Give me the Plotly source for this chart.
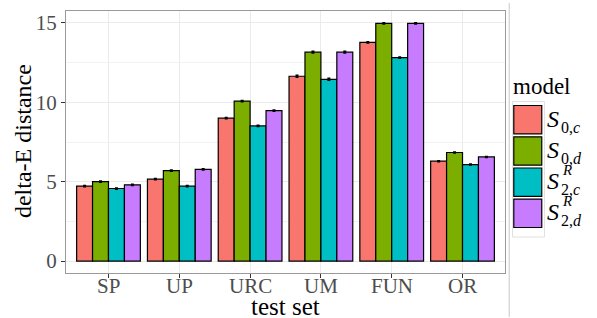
import plotly.graph_objects as go

categories = ["SP", "UP", "URC", "UM", "FUN", "OR"]
models = ["S0c", "S0d", "S2cR", "S2dR"]
s0c = [4.72, 5.16, 9.00, 11.64, 13.77, 6.29]
s0d = [5.01, 5.70, 10.08, 13.16, 14.97, 6.84]
s2c = [4.57, 4.72, 8.51, 11.45, 12.81, 6.08]
s2d = [4.80, 5.77, 9.48, 13.16, 14.97, 6.56]
err = [0.04, 0.04, 0.04, 0.06, 0.04, 0.03]
colors = ["#F8766D", "#7CAE00", "#00BFC4", "#C77CFF"]

W, H = 597, 318
L, R, T, B = 66, 505.5, 11, 273

fig = go.Figure()
for vals, c, name in zip([s0c, s0d, s2c, s2d], colors, models):
    fig.add_trace(go.Bar(
        x=categories, y=vals, name=name, marker=dict(color=c, line=dict(color="black", width=1.2)),
        error_y=dict(type="data", array=err, color="black", thickness=1.5, width=1.5),
        showlegend=False))

font = "Liberation Serif"
fig.update_layout(
    width=W, height=H, barmode="group", bargap=0.1, bargroupgap=0,
    margin=dict(l=L, r=W - R, t=T, b=H - B),
    plot_bgcolor="white", paper_bgcolor="white",
    font=dict(family=font, color="#4D4D4D", size=20),
    xaxis=dict(range=[-0.6, 5.6], showgrid=True, gridcolor="#EBEBEB", gridwidth=1,
               showline=True, mirror=True, linecolor="#9A9A9A", linewidth=1,
               ticks="outside", ticklen=4, tickcolor="#333333", showticklabels=False,
               zeroline=False),
    yaxis=dict(range=[-0.75, 15.75], tickvals=[0, 5, 10, 15], showgrid=True, gridcolor="#EBEBEB",
               gridwidth=1, showline=True, mirror=True, linecolor="#9A9A9A", linewidth=1,
               ticks="outside", ticklen=4, tickcolor="#333333",
               tickfont=dict(family=font, size=21, color="#4D4D4D"), zeroline=False,
               minor=dict(tickvals=[2.5, 7.5, 12.5], showgrid=True, gridcolor="#F2F2F2", gridwidth=0.6)),
)

pw = R - L
ph = B - T
def px(x):
    return (x - L) / pw
def py(y):
    return (B - y) / ph

ann = []
for cat in categories:
    ann.append(dict(text=cat, x=cat, y=py(285.5), xref="x", yref="paper", showarrow=False,
                    font=dict(family=font, size=21, color="#4D4D4D"),
                    xanchor="center", yanchor="middle"))
ann.append(dict(text="delta-E distance", x=px(23), y=py(141), xref="paper", yref="paper",
                textangle=-90, showarrow=False, font=dict(family=font, size=24, color="black"),
                xanchor="center", yanchor="middle"))
ann.append(dict(text="test set", x=px((L + R) / 2), y=py(306), xref="paper", yref="paper",
                showarrow=False, font=dict(family=font, size=25, color="black"),
                xanchor="center", yanchor="middle"))
ann.append(dict(text="model", x=px(512), y=py(86), xref="paper", yref="paper",
                showarrow=False, font=dict(family=font, size=23, color="black"),
                xanchor="left", yanchor="middle"))

shapes = []
shapes.append(dict(type="line", xref="paper", yref="paper", x0=px(509.7), x1=px(509.7),
                   y0=py(3), y1=py(317), line=dict(color="#C8C8C8", width=1)))
shapes.append(dict(type="rect", xref="paper", yref="paper", x0=px(513), x1=px(545),
                   y0=py(101.5), y1=py(237), line=dict(color="#E0E0E0", width=1)))
row_c = [119.7, 151.0, 182.2, 213.3]
subs = ["0,<i>c</i>", "0,<i>d</i>", "2,<i>c</i>", "2,<i>d</i>"]
sups = [None, None, "<i>R</i>", "<i>R</i>"]
for yc, c, sb, sp in zip(row_c, colors, subs, sups):
    shapes.append(dict(type="rect", xref="paper", yref="paper", x0=px(514.3), x1=px(542.3),
                       y0=py(yc - 14.2), y1=py(yc + 14.2), fillcolor=c,
                       line=dict(color="black", width=1.2)))
    ann.append(dict(text="<i>S</i>", x=px(546), y=py(yc - 1), xref="paper", yref="paper",
                    showarrow=False, font=dict(family=font, size=24, color="black"),
                    xanchor="left", yanchor="middle"))
    ann.append(dict(text=sb, x=px(559.5), y=py(yc + 7.5), xref="paper", yref="paper",
                    showarrow=False, font=dict(family=font, size=16, color="black"),
                    xanchor="left", yanchor="middle"))
    if sp:
        ann.append(dict(text=sp, x=px(560.5), y=py(yc - 12.5), xref="paper", yref="paper",
                        showarrow=False, font=dict(family=font, size=15, color="black"),
                        xanchor="left", yanchor="middle"))

fig.update_layout(annotations=ann, shapes=shapes)
fig.write_html("out.html", config={"displayModeBar": False},
               post_script="document.body.style.margin='0';")
